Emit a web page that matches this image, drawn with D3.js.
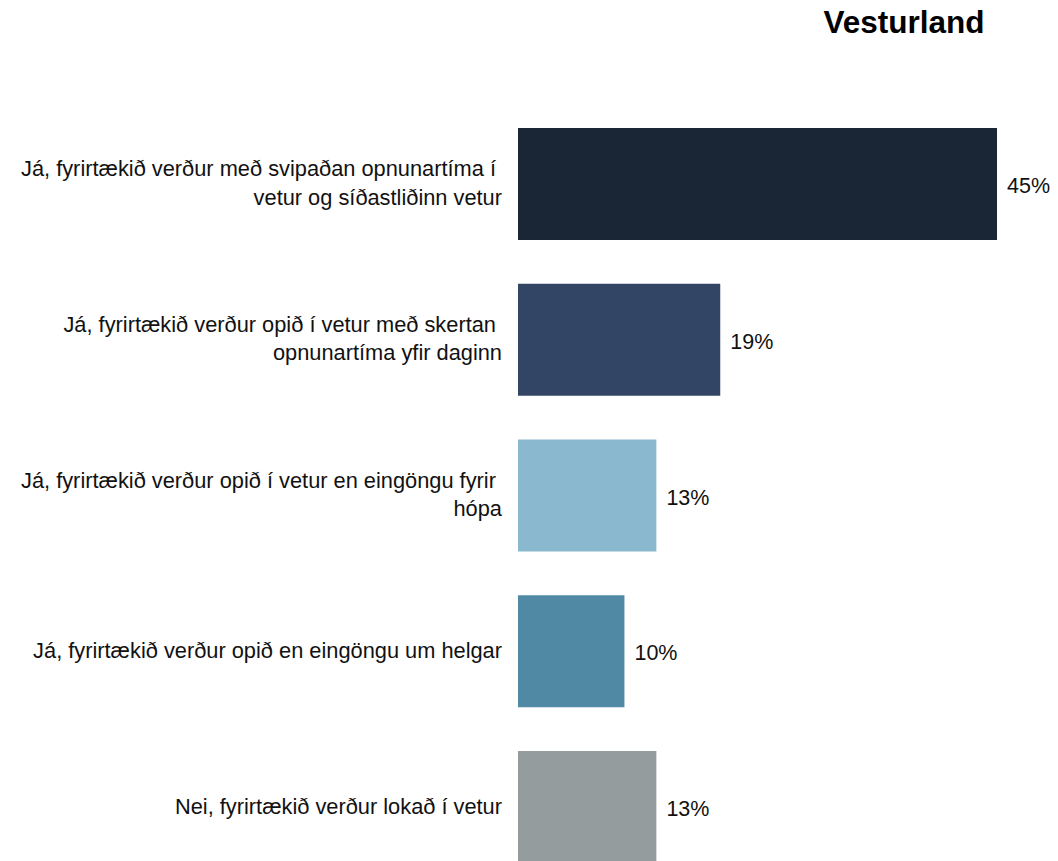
<!DOCTYPE html>
<html>
<head>
<meta charset="utf-8">
<script src="https://cdn.jsdelivr.net/npm/d3@7"></script>
<style>
  html, body { margin: 0; padding: 0; background: #fff; overflow: hidden; }
  svg { display: block; font-family: "Liberation Sans", Arial, sans-serif; }
</style>
</head>
<body>
<svg id="chart" width="1058" height="861"></svg>
<script>
// Survey answers (multi-line labels), shares in percent and bar colours
const categories = [
  ["Já, fyrirtækið verður með svipaðan opnunartíma í\u00a0", "vetur og síðastliðinn vetur"],
  ["Já, fyrirtækið verður opið í vetur með skertan\u00a0", "opnunartíma yfir daginn"],
  ["Já, fyrirtækið verður opið í vetur en eingöngu fyrir\u00a0", "hópa"],
  ["Já, fyrirtækið verður opið en eingöngu um helgar"],
  ["Nei, fyrirtækið verður lokað í vetur"]
];
const values = [45, 19, 13, 10, 13];
const colors = ["#1a2535", "#334565", "#8ab8cf", "#4f89a3", "#959c9e"];
const title = "Vesturland";

const svg = d3.select("#chart");
const keys = categories.map((_, i) => i);

const x = d3.scaleLinear().domain([0, 45]).range([518, 997]);
const y = d3.scaleBand().domain(keys).range([128, 863]).paddingInner(0.281).paddingOuter(0);

svg.append("text")
  .attr("x", 904).attr("y", 33)
  .attr("text-anchor", "middle")
  .attr("font-size", 31.5).attr("font-weight", "bold")
  .attr("fill", "#000")
  .text(title);

svg.selectAll("rect.bar").data(keys).join("rect")
  .attr("class", "bar")
  .attr("x", x(0))
  .attr("y", d => y(d))
  .attr("width", d => x(values[d]) - x(0))
  .attr("height", y.bandwidth())
  .attr("fill", d => colors[d]);

// value labels to the right of each bar
svg.selectAll("text.val").data(keys).join("text")
  .attr("class", "val")
  .attr("x", d => x(values[d]) + 10)
  .attr("y", d => y(d) + y.bandwidth() / 2 + 9)
  .attr("font-size", 21.5).attr("fill", "#111")
  .text(d => values[d] + "%");

// category labels, right-aligned against the bars
const lineH = 28.5;
svg.selectAll("text.cat").data(keys).join("text")
  .attr("class", "cat")
  .attr("text-anchor", "end")
  .attr("font-size", 21.8).attr("fill", "#111")
  .each(function(d) {
    const lines = categories[d];
    const cy = y(d) + y.bandwidth() / 2 + 6.5;
    d3.select(this).selectAll("tspan").data(lines).join("tspan")
      .attr("x", 502)
      .attr("y", (_, i) => cy + (i - (lines.length - 1) / 2) * lineH)
      .text(t => t);
  });
</script>
</body>
</html>
